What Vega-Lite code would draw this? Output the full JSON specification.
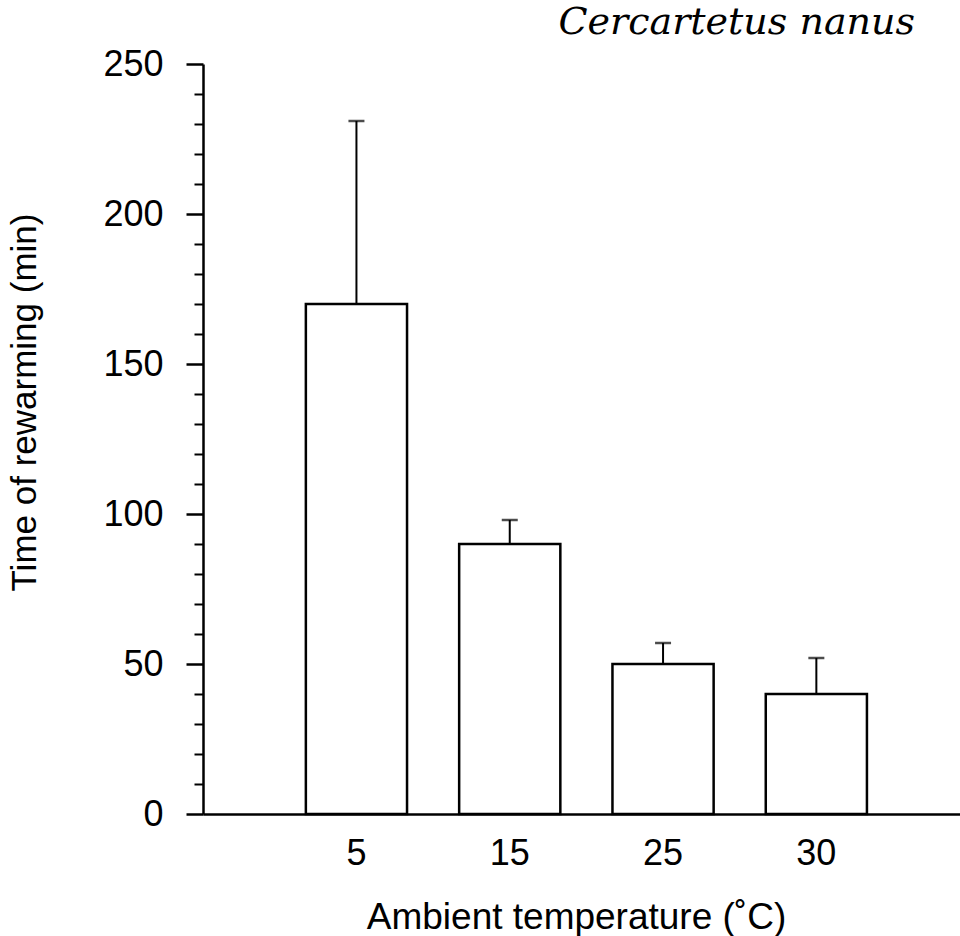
{
  "$schema": "https://vega.github.io/schema/vega-lite/v6.json",
  "autosize": "none",
  "width": 757,
  "height": 750,
  "padding": {"left": 203, "top": 64, "right": 0, "bottom": 122},
  "background": "white",
  "config": {
    "view": {"stroke": null},
    "font": "Liberation Sans",
    "axis": {"labelFont": "Liberation Sans", "titleFont": "Liberation Sans", "labelColor": "black", "titleColor": "black", "domainColor": "black", "tickColor": "black", "titleFontWeight": "normal", "grid": false}
  },
  "title": {
    "text": "Cercartetus nanus",
    "font": "DejaVu Serif",
    "fontStyle": "italic",
    "fontWeight": "normal",
    "fontSize": 38,
    "anchor": "end",
    "dx": -45,
    "color": "black"
  },
  "data": {
    "values": [
      {"temp": "5", "mean": 170, "upper": 231},
      {"temp": "15", "mean": 90, "upper": 98},
      {"temp": "25", "mean": 50, "upper": 57},
      {"temp": "30", "mean": 40, "upper": 52}
    ]
  },
  "layer": [
    {
      "mark": {"type": "bar", "fill": "white", "stroke": "black", "strokeWidth": 2.5},
      "encoding": {
        "x": {
          "field": "temp", "type": "ordinal", "sort": ["5", "15", "25", "30"],
          "scale": {"paddingInner": 0.34, "paddingOuter": 0.639, "align": 0.525},
          "axis": {
            "title": "Ambient temperature (˚C)",
            "labelAngle": 0, "ticks": false, "domainWidth": 2.5,
            "labelFontSize": 36, "labelPadding": 22,
            "titleFontSize": 37, "titleY": 85, "titleBaseline": "top", "titleX": 373
          }
        },
        "y": {
          "field": "mean", "type": "quantitative",
          "scale": {"domain": [0, 250], "nice": false},
          "axis": {
            "orient": "left",
            "title": "Time of rewarming (min)",
            "values": [0, 50, 100, 150, 200, 250],
            "tickSize": 17, "tickWidth": 2.5, "domainWidth": 2.5,
            "labelFontSize": 36, "labelPadding": 23,
            "titleFontSize": 35, "titleAngle": -90, "titleBaseline": "bottom",
            "titleX": -161, "titleY": 338, "titleAlign": "center"
          }
        }
      }
    },
    {
      "mark": {"type": "rule", "stroke": "black", "strokeWidth": 2},
      "encoding": {
        "x": {"field": "temp", "type": "ordinal", "sort": ["5", "15", "25", "30"]},
        "y": {
          "field": "upper", "type": "quantitative",
          "axis": {
            "orient": "left", "title": null, "labels": false, "domain": false,
            "values": [10, 20, 30, 40, 60, 70, 80, 90, 110, 120, 130, 140, 160, 170, 180, 190, 210, 220, 230, 240],
            "tickSize": 9, "tickWidth": 2
          }
        },
        "y2": {"field": "mean"}
      }
    },
    {
      "mark": {"type": "tick", "color": "black", "size": 16, "thickness": 2.5, "orient": "horizontal"},
      "encoding": {
        "x": {"field": "temp", "type": "ordinal", "sort": ["5", "15", "25", "30"]},
        "y": {"field": "upper", "type": "quantitative", "axis": null}
      }
    }
  ],
  "resolve": {"axis": {"y": "independent"}}
}
